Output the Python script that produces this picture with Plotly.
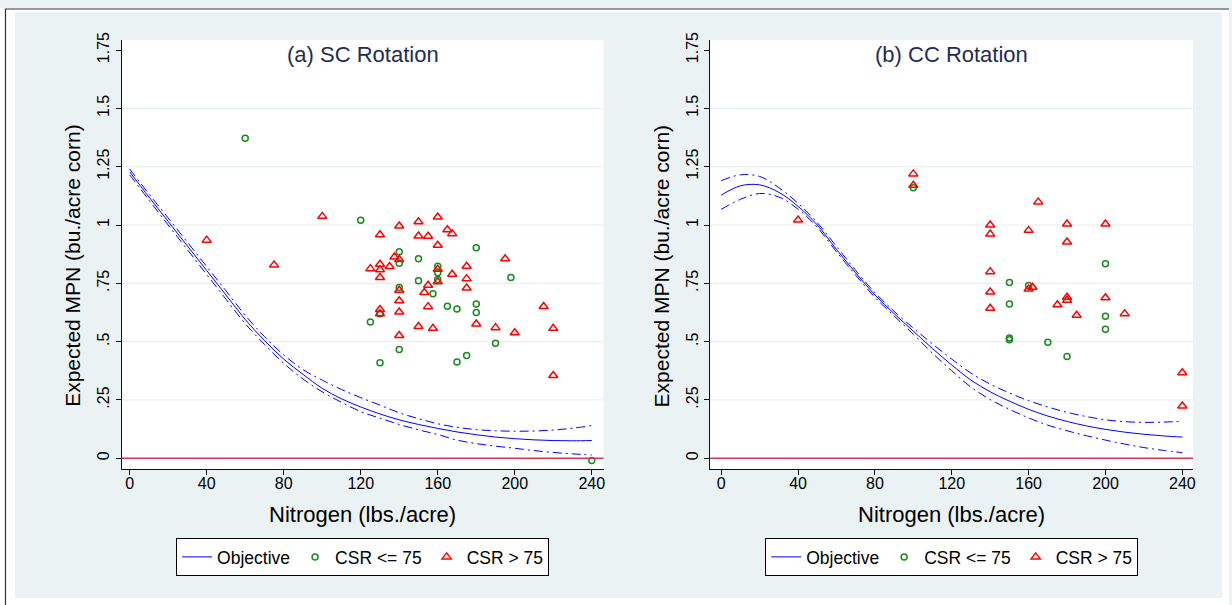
import plotly.graph_objects as go

W, H = 1232, 605
# the photographed page puts the figure 8px down and squeezes it into 597px
TOP_OFF, VIS_H = 8, 597

# ---------------- data ----------------
N_GRID = list(range(0, 241, 10))

obj_sc = [1.228, 1.12, 1.015, 0.91, 0.805, 0.70, 0.595, 0.505, 0.425, 0.36, 0.30, 0.255, 0.22,
          0.19, 0.165, 0.145, 0.128, 0.113, 0.101, 0.091, 0.084, 0.079, 0.076, 0.075, 0.076]
upper_sc = [1.240, 1.133, 1.03, 0.926, 0.822, 0.718, 0.613, 0.522, 0.443, 0.38, 0.335, 0.295, 0.26,
            0.228, 0.195, 0.17, 0.148, 0.133, 0.123, 0.118, 0.116, 0.117, 0.121, 0.129, 0.140]
lower_sc = [1.215, 1.107, 1.0, 0.894, 0.788, 0.682, 0.577, 0.488, 0.407, 0.34, 0.285, 0.24, 0.2,
            0.172, 0.145, 0.122, 0.102, 0.078, 0.063, 0.052, 0.043, 0.033, 0.025, 0.019, 0.014]

obj_cc = [1.128, 1.168, 1.172, 1.14, 1.08, 1.0, 0.895, 0.795, 0.70, 0.62, 0.545, 0.47, 0.40,
          0.335, 0.285, 0.245, 0.21, 0.181, 0.158, 0.139, 0.124, 0.112, 0.103, 0.096, 0.091]
upper_cc = [1.19, 1.215, 1.208, 1.16, 1.093, 1.01, 0.908, 0.805, 0.71, 0.63, 0.558, 0.49, 0.425,
            0.365, 0.318, 0.28, 0.247, 0.22, 0.197, 0.179, 0.165, 0.157, 0.154, 0.155, 0.159]
lower_cc = [1.067, 1.11, 1.135, 1.12, 1.068, 0.99, 0.885, 0.785, 0.69, 0.61, 0.532, 0.45, 0.375,
            0.305, 0.252, 0.21, 0.173, 0.142, 0.118, 0.097, 0.078, 0.061, 0.046, 0.034, 0.024]

sc_low_n = [60, 120, 180, 140, 140, 150, 160, 160, 160, 150, 198, 140, 157.5, 165, 170, 180, 180,
            130, 125, 190, 140, 175, 170, 130, 240]
sc_low_v = [1.372, 1.02, 0.902, 0.885, 0.836, 0.855, 0.823, 0.795, 0.766, 0.761, 0.775, 0.732, 0.705,
            0.652, 0.64, 0.661, 0.625, 0.62, 0.584, 0.493, 0.466, 0.441, 0.413, 0.41, -0.01]

sc_high_n = [40, 75, 100, 140, 150, 160, 130, 150, 155, 165, 167.5, 160, 195, 137.5, 140, 130, 125,
             130, 135, 130, 160, 175, 167.5, 160, 175, 155, 175, 153, 140, 140, 130, 130, 140, 155,
             215, 150, 157.5, 180, 190, 200, 220, 140, 220]
sc_high_v = [0.935, 0.829, 1.037, 0.996, 1.014, 1.034, 0.958, 0.953, 0.952, 0.98, 0.963, 0.913, 0.855,
             0.863, 0.852, 0.832, 0.813, 0.808, 0.822, 0.775, 0.81, 0.823, 0.789, 0.757, 0.77, 0.742,
             0.73, 0.711, 0.72, 0.675, 0.638, 0.62, 0.627, 0.65, 0.651, 0.565, 0.557, 0.576, 0.56,
             0.538, 0.557, 0.526, 0.355]

cc_low_n = [100, 200, 150, 160, 150, 200, 200, 150, 150, 170, 180]
cc_low_v = [1.16, 0.834, 0.753, 0.741, 0.661, 0.609, 0.553, 0.516, 0.508, 0.497, 0.436]

cc_high_n = [100, 100, 40, 165, 140, 140, 160, 180, 200, 180, 140, 140, 140, 160, 162, 180, 180,
             200, 175, 185, 210, 240, 240]
cc_high_v = [1.219, 1.17, 1.021, 1.099, 1.0, 0.961, 0.977, 1.004, 1.004, 0.927, 0.8, 0.713, 0.643,
             0.726, 0.733, 0.69, 0.677, 0.688, 0.658, 0.613, 0.62, 0.367, 0.224]

X_TICKS = [0, 40, 80, 120, 160, 200, 240]
Y_TICKS = [0, 0.25, 0.5, 0.75, 1, 1.25, 1.5, 1.75]
Y_TICKTEXT = ["0", ".25", ".5", ".75", "1", "1.25", "1.5", "1.75"]
GRID_VALS = [0.25, 0.5, 0.75, 1, 1.25, 1.5]

PANEL_TITLES = ["(a) SC Rotation", "(b) CC Rotation"]
LEGEND_NAMES = ["Objective", "CSR <= 75", "CSR > 75"]

# ---------------- style ----------------
FONT = "Liberation Sans, Arial, sans-serif"
BLUE = "#0000FF"
GREEN = "#1A8A1E"
RED = "#FF0000"
ZERO = "#D2385A"
BG = "#EAF2F3"
GRID = "#E3ECEE"
TITLE_C = "#1F2D55"
DASHDOT = "9px,4px,2px,4px"


def wx(px):
    return px / W


def wy(py):
    return 1 - (py - TOP_OFF) / VIS_H


fig = go.Figure()

panels = [
    dict(xa="x", ya="y", leg="legend", obj=obj_sc, up=upper_sc, lo=lower_sc,
         ln=sc_low_n, lv=sc_low_v, hn=sc_high_n, hv=sc_high_v),
    dict(xa="x2", ya="y2", leg="legend2", obj=obj_cc, up=upper_cc, lo=lower_cc,
         ln=cc_low_n, lv=cc_low_v, hn=cc_high_n, hv=cc_high_v),
]

for p in panels:
    fig.add_trace(go.Scatter(x=N_GRID, y=p["obj"], mode="lines", name=LEGEND_NAMES[0],
                             line=dict(color=BLUE, width=1, shape="spline"),
                             xaxis=p["xa"], yaxis=p["ya"], legend=p["leg"]))
    fig.add_trace(go.Scatter(x=p["ln"], y=p["lv"], mode="markers", name=LEGEND_NAMES[1],
                             marker=dict(symbol="circle-open", size=6, color=GREEN,
                                         line=dict(width=1.5, color=GREEN)),
                             xaxis=p["xa"], yaxis=p["ya"], legend=p["leg"]))
    fig.add_trace(go.Scatter(x=p["hn"], y=p["hv"], mode="markers", name=LEGEND_NAMES[2],
                             marker=dict(symbol="triangle-up-open", size=8, color=RED,
                                         line=dict(width=1.5, color=RED)),
                             xaxis=p["xa"], yaxis=p["ya"], legend=p["leg"]))
    for band in (p["up"], p["lo"]):
        fig.add_trace(go.Scatter(x=N_GRID, y=band, mode="lines", showlegend=False,
                                 line=dict(color=BLUE, width=1, dash=DASHDOT, shape="spline"),
                                 xaxis=p["xa"], yaxis=p["ya"]))

y_dom = [wy(469), wy(40)]
y_rng = [-0.0459, 1.793]


def xaxis(dom, rng, anchor):
    return dict(domain=dom, range=rng, anchor=anchor, tickvals=X_TICKS,
                showline=True, linecolor="#111", linewidth=1, ticks="outside", ticklen=5,
                tickcolor="#111", tickfont=dict(family=FONT, size=16, color="#000"),
                ticklabelstandoff=-5,
                showgrid=False, zeroline=False, fixedrange=True)


def yaxis(anchor):
    return dict(domain=y_dom, range=y_rng, anchor=anchor, tickvals=Y_TICKS, ticktext=Y_TICKTEXT,
                tickangle=-90, showline=True, linecolor="#111", linewidth=1, ticks="outside",
                ticklen=5, tickcolor="#111", tickfont=dict(family=FONT, size=16, color="#000"),
                showgrid=False, zeroline=False, fixedrange=True)


centers = [363.5, 954]


def legend(cx):
    return dict(orientation="h", x=wx(cx), xanchor="center", y=wy(557), yanchor="middle",
                bgcolor="white", bordercolor="#000", borderwidth=1, itemwidth=30,
                font=dict(family=FONT, size=17.5, color="#000"), traceorder="normal")


fig.update_layout(
    width=W, height=H, margin=dict(l=0, r=0, t=0, b=0), autosize=False,
    paper_bgcolor=BG, plot_bgcolor="white",
    xaxis=xaxis([wx(122), wx(605)], [-4.15, 246.1], "y"),
    yaxis=yaxis("x"),
    xaxis2=xaxis([wx(712), wx(1196)], [-5.7, 245.6], "y2"),
    yaxis2=yaxis("x2"),
    legend=legend(centers[0]),
    legend2=legend(centers[1]),
    showlegend=True,
)

shapes = []
for xr, yr in (("x domain", "y"), ("x2 domain", "y2")):
    for g in GRID_VALS:
        shapes.append(dict(type="line", xref=xr, yref=yr, x0=0, x1=1, y0=g, y1=g,
                           line=dict(color=GRID, width=1), layer="below"))
    shapes.append(dict(type="line", xref=xr, yref=yr, x0=0, x1=1, y0=0, y1=0,
                       line=dict(color=ZERO, width=1.5), layer="above"))

# outer white margin strips and the dark border on top/left
for x0, x1, y0, y1 in ((0, 15, 0, 620), (1225, W, 0, 620), (0, W, 0, 12), (0, W, 598, 620)):
    shapes.append(dict(type="rect", xref="paper", yref="paper", x0=wx(x0), x1=wx(x1),
                       y0=max(wy(y1), 0), y1=min(wy(y0), 1), fillcolor="white",
                       line=dict(width=0), layer="above"))
shapes.append(dict(type="line", xref="paper", yref="paper", x0=wx(5), x1=1, y0=wy(9),
                   y1=wy(9), line=dict(color="#333", width=1.2), layer="above"))
shapes.append(dict(type="line", xref="paper", yref="paper", x0=wx(5.5), x1=wx(5.5), y0=0,
                   y1=wy(9), line=dict(color="#333", width=1.2), layer="above"))
fig.update_layout(shapes=shapes)

annotations = []
for cx, title in zip(centers, PANEL_TITLES):
    annotations.append(dict(text=title, xref="paper", yref="paper", x=wx(cx), y=wy(55),
                            xanchor="center", yanchor="middle", showarrow=False,
                            font=dict(family=FONT, size=22, color=TITLE_C)))
    annotations.append(dict(text="Nitrogen (lbs./acre)", xref="paper", yref="paper", x=wx(cx),
                            y=wy(514), xanchor="center", yanchor="middle", showarrow=False,
                            font=dict(family=FONT, size=22, color="#000")))
for yx in (72, 663):
    annotations.append(dict(text="Expected MPN (bu./acre corn)", xref="paper", yref="paper",
                            x=wx(yx), y=wy(266), xanchor="center", yanchor="middle",
                            textangle=-90, showarrow=False,
                            font=dict(family=FONT, size=21, color="#000")))
fig.update_layout(annotations=annotations)

POST = """
var de=document.documentElement, b=document.body;
de.style.margin='0'; de.style.padding='0'; de.style.overflow='hidden';
b.style.margin='0'; b.style.padding='0'; b.style.overflow='hidden';
var gd=document.querySelector('.plotly-graph-div');
if(gd){gd.style.position='fixed'; gd.style.left='0px'; gd.style.top='0px'; gd.style.margin='0';}
"""

fig.write_html("out.html", post_script=POST,
               config={"responsive": False, "displayModeBar": False})
